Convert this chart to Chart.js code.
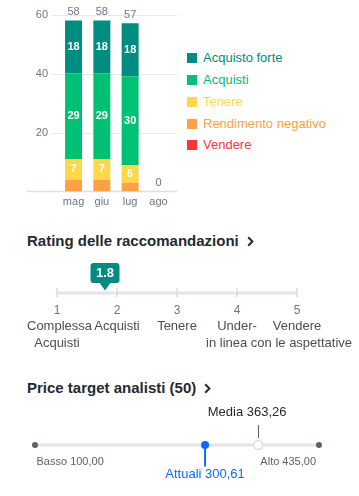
<!DOCTYPE html>
<html><head><meta charset="utf-8">
<script src="https://cdn.jsdelivr.net/npm/chart.js@4.4.1/dist/chart.umd.min.js"></script>
<style>
html,body{margin:0;padding:0;background:#fff;width:359px;height:496px;overflow:hidden;font-family:"Liberation Sans",Arial,sans-serif;}
canvas{position:absolute;left:0;}
.lg{position:absolute;left:187px;height:16px;line-height:16px;font-size:13px;white-space:nowrap;}
.lg i{position:absolute;left:0;top:3px;width:10px;height:10px;}
.lg b{position:absolute;left:16px;top:0;font-weight:normal;}
.hd{position:absolute;left:27px;margin:0;font-size:15px;font-weight:bold;color:#232a31;white-space:nowrap;line-height:17px;}
.hd svg{display:inline-block;margin-left:8px;vertical-align:-1px;}
</style></head>
<body>
<canvas id="bars" width="185" height="215" style="top:0"></canvas>
<div id="legend"></div>
<div class="hd" id="h1" style="top:232px"></div>
<canvas id="rating" width="359" height="100" style="top:255px"></canvas>
<div class="hd" id="h2" style="top:379px"></div>
<canvas id="price" width="359" height="98" style="top:398px"></canvas>
<script>
// ---------- data ----------
const months = ['mag', 'giu', 'lug', 'ago'];
const strongBuy = [18, 18, 18, 0];
const buy = [29, 29, 30, 0];
const hold = [7, 7, 6, 0];
const underperform = [4, 4, 3, 0];
const sell = [0, 0, 0, 0];
const seriesNames = ['Acquisto forte', 'Acquisti', 'Tenere', 'Rendimento negativo', 'Vendere'];
const yTicks = [20, 40, 60];

const ratingTitle = 'Rating delle raccomandazioni';
const ratingValue = 1.8;
const ratingTicks = [1, 2, 3, 4, 5];
const ratingLabels = [['Complessa', 'Acquisti'], ['Acquisti'], ['Tenere'], ['Under-', 'in linea con le aspettative'], ['Vendere']];

const priceTitle = 'Price target analisti (50)';
const priceLow = 100.00;
const priceHigh = 435.00;
const priceCurrent = 300.61;
const priceMean = 363.26;
const priceNames = ['Basso', 'Alto', 'Attuali', 'Media'];

// ---------- styles ----------
const C_STRONG = '#008c80', C_BUY = '#00c073', C_HOLD = '#ffd84a', C_UNDER = '#ffa142', C_SELL = '#ff333a';
const FONT = '"Liberation Sans", Arial, sans-serif';
const GRAY = '#6e7780';
const fmt = v => v.toFixed(2).replace('.', ',');

// legend
const legendColors = [C_STRONG, C_BUY, C_HOLD, C_UNDER, C_SELL];
const legendY = [57.7, 80, 101.8, 123.5, 145.3];
const lg = document.getElementById('legend');
seriesNames.forEach((n, i) => {
  const d = document.createElement('div');
  d.className = 'lg';
  d.style.top = (legendY[i] - 8) + 'px';
  d.innerHTML = '<i style="background:' + legendColors[i] + '"></i><b style="color:' + legendColors[i] + '">' + n + '</b>';
  lg.appendChild(d);
});
const chev = '<svg width="7" height="11" viewBox="0 0 7 11"><path d="M1.2 1.2 L5.4 5.5 L1.2 9.8" fill="none" stroke="#232a31" stroke-width="2"/></svg>';
document.getElementById('h1').innerHTML = ratingTitle + chev;
document.getElementById('h2').innerHTML = priceTitle + chev;

// ---------- bar chart ----------
const totals = months.map((m, i) => strongBuy[i] + buy[i] + hold[i] + underperform[i] + sell[i]);
const barDecor = {
  id: 'barDecor',
  beforeDatasetsDraw(chart) {
    const { ctx, chartArea: a, scales: { x, y } } = chart;
    ctx.save();
    ctx.lineWidth = 1;
    ctx.strokeStyle = '#e6e9ee';
    yTicks.forEach(v => {
      const py = Math.round(y.getPixelForValue(v)) + 0.5;
      ctx.beginPath(); ctx.moveTo(a.left - 7.4, py); ctx.lineTo(a.right + 4.4, py); ctx.stroke();
    });
    ctx.strokeStyle = '#dcdfe5';
    ctx.lineWidth = 1.5;
    const p0 = y.getPixelForValue(0);
    ctx.beginPath(); ctx.moveTo(27, p0); ctx.lineTo(a.right + 4.4, p0); ctx.stroke();
    ctx.fillStyle = GRAY;
    ctx.font = '11px ' + FONT;
    ctx.textAlign = 'right'; ctx.textBaseline = 'middle';
    yTicks.forEach(v => ctx.fillText(String(v), a.left - 11.4, y.getPixelForValue(v)));
    ctx.textAlign = 'center';
    months.forEach((m, i) => ctx.fillText(m, x.getPixelForValue(i), p0 + 10));
    ctx.restore();
  },
  afterDatasetsDraw(chart) {
    const { ctx, scales: { x, y } } = chart;
    ctx.save();
    ctx.textAlign = 'center'; ctx.textBaseline = 'middle';
    ctx.font = 'bold 11px ' + FONT;
    ctx.fillStyle = '#fff';
    chart.data.datasets.forEach((ds, di) => {
      chart.getDatasetMeta(di).data.forEach((bar, i) => {
        const v = ds.data[i];
        if (!v || Math.abs(bar.base - bar.y) < 14) return;
        ctx.fillText(String(v), bar.x, (bar.y + bar.base) / 2);
      });
    });
    ctx.font = '11px ' + FONT;
    ctx.fillStyle = GRAY;
    totals.forEach((t, i) => ctx.fillText(String(t), x.getPixelForValue(i), y.getPixelForValue(t) - 8.5));
    ctx.restore();
  }
};
new Chart(document.getElementById('bars'), {
  type: 'bar',
  data: {
    labels: months,
    datasets: [
      { label: seriesNames[4], data: sell, backgroundColor: C_SELL },
      { label: seriesNames[3], data: underperform, backgroundColor: C_UNDER },
      { label: seriesNames[2], data: hold, backgroundColor: C_HOLD },
      { label: seriesNames[1], data: buy, backgroundColor: C_BUY },
      { label: seriesNames[0], data: strongBuy, backgroundColor: C_STRONG }
    ]
  },
  options: {
    responsive: false, animation: false, devicePixelRatio: 1,
    layout: { padding: { left: 59.4, right: 12.4, top: 14.5, bottom: 23.5 } },
    datasets: { bar: { barPercentage: 0.6, categoryPercentage: 1, borderWidth: 0 } },
    scales: {
      x: { stacked: true, display: false, offset: true },
      y: { stacked: true, display: false, min: 0, max: 60 }
    },
    plugins: { legend: { display: false }, tooltip: { enabled: false } },
    events: []
  },
  plugins: [barDecor]
});

// ---------- rating chart ----------
const LINE_Y = 38;
const ratingDecor = {
  id: 'ratingDecor',
  beforeDatasetsDraw(chart) {
    const { ctx, scales: { x } } = chart;
    ctx.save();
    const x1 = x.getPixelForValue(ratingTicks[0]), x5 = x.getPixelForValue(ratingTicks[ratingTicks.length - 1]);
    ctx.strokeStyle = '#e1e4e9'; ctx.lineWidth = 3;
    ctx.beginPath(); ctx.moveTo(x1, LINE_Y); ctx.lineTo(x5, LINE_Y); ctx.stroke();
    ctx.strokeStyle = '#d8dce2'; ctx.lineWidth = 1.5;
    ratingTicks.forEach(t => {
      const px = x.getPixelForValue(t);
      ctx.beginPath(); ctx.moveTo(px, LINE_Y - 5); ctx.lineTo(px, LINE_Y + 4); ctx.stroke();
    });
    ctx.textAlign = 'center'; ctx.textBaseline = 'middle';
    ctx.fillStyle = GRAY; ctx.font = '12px ' + FONT;
    ratingTicks.forEach(t => ctx.fillText(String(t), x.getPixelForValue(t), 56));
    ctx.fillStyle = '#464e56'; ctx.font = '13px ' + FONT;
    ratingLabels.forEach((lines, i) => {
      const px = x.getPixelForValue(ratingTicks[i]);
      lines.forEach((s, j) => {
        const w = ctx.measureText(s).width;
        let cx = px;
        if (w > 120) cx = 352 - w / 2;
        cx = Math.max(cx, 27 + w / 2);
        ctx.fillText(s, cx, 71.5 + j * 16.5);
      });
    });
    ctx.restore();
  },
  afterDatasetsDraw(chart) {
    const { ctx } = chart;
    const pt = chart.getDatasetMeta(0).data[0];
    const px = pt.x;
    ctx.save();
    ctx.fillStyle = C_STRONG;
    ctx.beginPath();
    if (ctx.roundRect) ctx.roundRect(px - 14.5, 8, 29, 20, 3); else ctx.rect(px - 14.5, 8, 29, 20);
    ctx.fill();
    ctx.beginPath(); ctx.moveTo(px - 6, 27); ctx.lineTo(px + 6, 27); ctx.lineTo(px, 35.5); ctx.closePath(); ctx.fill();
    ctx.fillStyle = '#fff'; ctx.font = 'bold 13px ' + FONT;
    ctx.textAlign = 'center'; ctx.textBaseline = 'middle';
    ctx.fillText(ratingValue.toFixed(1), px, 18.5);
    ctx.restore();
  }
};
new Chart(document.getElementById('rating'), {
  type: 'scatter',
  data: { datasets: [{ data: [{ x: ratingValue, y: 0 }], pointRadius: 0 }] },
  options: {
    responsive: false, animation: false, devicePixelRatio: 1,
    layout: { padding: { left: 57, right: 62, top: 30, bottom: 62 } },
    scales: {
      x: { type: 'linear', display: false, min: ratingTicks[0], max: ratingTicks[ratingTicks.length - 1] },
      y: { display: false, min: -1, max: 1 }
    },
    plugins: { legend: { display: false }, tooltip: { enabled: false } },
    events: []
  },
  plugins: [ratingDecor]
});

// ---------- price target chart ----------
const PL = 47;
const priceDecor = {
  id: 'priceDecor',
  beforeDatasetsDraw(chart) {
    const { ctx, scales: { x } } = chart;
    const xl = x.getPixelForValue(priceLow), xh = x.getPixelForValue(priceHigh);
    const xc = x.getPixelForValue(priceCurrent), xm = x.getPixelForValue(priceMean);
    ctx.save();
    ctx.strokeStyle = '#e1e4e9'; ctx.lineWidth = 3;
    ctx.beginPath(); ctx.moveTo(xl, PL); ctx.lineTo(xh, PL); ctx.stroke();
    // media connector
    ctx.strokeStyle = '#5b636a'; ctx.lineWidth = 1;
    ctx.beginPath(); ctx.moveTo(Math.round(xm) + 0.5, 27); ctx.lineTo(Math.round(xm) + 0.5, 40); ctx.stroke();
    // current connector
    ctx.strokeStyle = '#0f69ff'; ctx.lineWidth = 2;
    ctx.beginPath(); ctx.moveTo(xc, PL); ctx.lineTo(xc, 68.5); ctx.stroke();
    // texts
    ctx.textBaseline = 'middle';
    ctx.font = '11px ' + FONT; ctx.fillStyle = '#5b636a';
    ctx.textAlign = 'left'; ctx.fillText(priceNames[0] + ' ' + fmt(priceLow), xl + 1.5, 64);
    ctx.textAlign = 'right'; ctx.fillText(priceNames[1] + ' ' + fmt(priceHigh), xh - 3, 64);
    ctx.font = '13px ' + FONT; ctx.textAlign = 'center';
    ctx.fillStyle = '#0f69ff'; ctx.fillText(priceNames[2] + ' ' + fmt(priceCurrent), xc, 76.5);
    ctx.fillStyle = '#232a31'; ctx.fillText(priceNames[3] + ' ' + fmt(priceMean), xm - 11, 14.5);
    ctx.restore();
  },
  afterDatasetsDraw(chart) {
    const { ctx, scales: { x } } = chart;
    ctx.save();
    const dot = (v, r, fill, stroke) => {
      ctx.beginPath(); ctx.arc(x.getPixelForValue(v), PL, r, 0, Math.PI * 2);
      ctx.fillStyle = fill; ctx.fill();
      if (stroke) { ctx.strokeStyle = stroke; ctx.lineWidth = 1.5; ctx.stroke(); }
    };
    dot(priceLow, 3, '#5b636a');
    dot(priceHigh, 3, '#5b636a');
    dot(priceMean, 4.5, '#fff', '#dcdfe4');
    dot(priceCurrent, 4, '#0f69ff');
    ctx.restore();
  }
};
new Chart(document.getElementById('price'), {
  type: 'scatter',
  data: { datasets: [{ data: [{ x: priceLow, y: 0 }, { x: priceCurrent, y: 0 }, { x: priceMean, y: 0 }, { x: priceHigh, y: 0 }], pointRadius: 0 }] },
  options: {
    responsive: false, animation: false, devicePixelRatio: 1,
    layout: { padding: { left: 35, right: 40, top: 40, bottom: 44 } },
    scales: {
      x: { type: 'linear', display: false, min: priceLow, max: priceHigh },
      y: { display: false, min: -1, max: 1 }
    },
    plugins: { legend: { display: false }, tooltip: { enabled: false } },
    events: []
  },
  plugins: [priceDecor]
});
</script>
</body></html>
